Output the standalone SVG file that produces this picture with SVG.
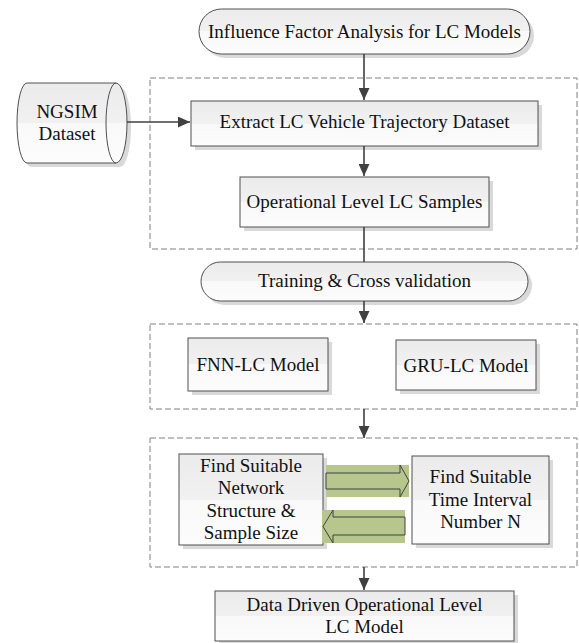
<svg xmlns="http://www.w3.org/2000/svg" width="579" height="643" viewBox="0 0 579 643">
  <defs>
    <linearGradient id="boxfill" x1="0" y1="0" x2="0" y2="1">
      <stop offset="0" stop-color="#ebebeb"/>
      <stop offset="0.5" stop-color="#f1f1f1"/>
      <stop offset="0.5" stop-color="#f9f9f9"/>
      <stop offset="1" stop-color="#fcfcfc"/>
    </linearGradient>
    <marker id="arrow" markerUnits="userSpaceOnUse" markerWidth="12" markerHeight="11" refX="12" refY="5.5" orient="auto">
      <path d="M0,0 L12,5.5 L0,11 z" fill="#404040"/>
    </marker>
    <style>
      .box { fill: url(#boxfill); stroke: #505050; stroke-width: 1; }
      .shadow { fill: #d9d9d9; }
      .dash { fill: none; stroke: #808080; stroke-width: 1; stroke-dasharray: 6 3; }
      .conn { fill: none; stroke: #404040; stroke-width: 1.6; }
      .txt { font-family: "Liberation Serif", "Times New Roman", serif; font-size: 19px; fill: #111; text-anchor: middle; }
      .garrow-bg { fill: #b6c68c; }
      .garrow { fill: #b6c68c; stroke: #404040; stroke-width: 1; }
    </style>
  </defs>
  <rect width="579" height="643" fill="#ffffff"/>

  <!-- dashed group boxes -->
  <g id="groups">
    <rect class="dash" x="150" y="78" width="427" height="171"/>
    <rect class="dash" x="150" y="324" width="427" height="85"/>
    <rect class="dash" x="150" y="438" width="427" height="129"/>
  </g>

  <g id="influence">
    <rect class="shadow" x="203" y="13" width="331" height="45" rx="22.5"/>
    <rect class="box" x="199" y="9" width="331" height="45" rx="22.5"/>
    <text class="txt" x="364.5" y="37.5">Influence Factor Analysis for LC Models</text>
  </g>

  <g id="ngsim">
    <path class="shadow" d="M31,87 L120,87 A11,40 0 0 1 120,167 L31,167 A10,40 0 0 1 31,87 Z"/>
    <path class="box" d="M27,83 L116,83 A11,40 0 0 1 116,163 L27,163 A10,40 0 0 1 27,83 Z"/>
    <path d="M116,83 A10,40 0 0 0 116,163" fill="none" stroke="#505050" stroke-width="1"/>
    <text class="txt" x="67" y="118">NGSIM</text>
    <text class="txt" x="67" y="140">Dataset</text>
  </g>

  <g id="extract">
    <rect class="shadow" x="195" y="105" width="347" height="45"/>
    <rect class="box" x="191" y="101" width="347" height="45"/>
    <text class="txt" x="364.5" y="128">Extract LC Vehicle Trajectory Dataset</text>
  </g>

  <g id="operational">
    <rect class="shadow" x="244" y="181" width="249" height="50"/>
    <rect class="box" x="240" y="177" width="249" height="50"/>
    <text class="txt" x="364.5" y="208">Operational Level LC Samples</text>
  </g>

  <g id="training">
    <rect class="shadow" x="205" y="266" width="327" height="39" rx="19.5"/>
    <rect class="box" x="201" y="262" width="327" height="39" rx="19.5"/>
    <text class="txt" x="364.5" y="287">Training &amp; Cross validation</text>
  </g>

  <g id="fnn">
    <rect class="shadow" x="192" y="342" width="140" height="53"/>
    <rect class="box" x="188" y="338" width="140" height="53"/>
    <text class="txt" x="258" y="371">FNN-LC Model</text>
  </g>

  <g id="gru">
    <rect class="shadow" x="400" y="344" width="140" height="50"/>
    <rect class="box" x="396" y="340" width="140" height="50"/>
    <text class="txt" x="466" y="371.5">GRU-LC Model</text>
  </g>

  <g id="network">
    <rect class="shadow" x="183" y="458" width="144" height="91"/>
    <rect class="box" x="179" y="454" width="144" height="91"/>
    <text class="txt" x="251" y="471.5">Find Suitable</text>
    <text class="txt" x="251" y="494">Network</text>
    <text class="txt" x="251" y="516.5">Structure &amp;</text>
    <text class="txt" x="251" y="539">Sample Size</text>
  </g>

  <g id="interval">
    <rect class="shadow" x="416" y="460" width="137" height="88"/>
    <rect class="box" x="412" y="456" width="137" height="88"/>
    <text class="txt" x="480.5" y="483">Find Suitable</text>
    <text class="txt" x="480.5" y="505.5">Time Interval</text>
    <text class="txt" x="480.5" y="528">Number N</text>
  </g>

  <g id="datadriven">
    <rect class="shadow" x="219" y="595" width="299" height="48"/>
    <rect class="box" x="215" y="591" width="299" height="50"/>
    <text class="txt" x="364.5" y="611">Data Driven Operational Level</text>
    <text class="txt" x="364.5" y="633">LC Model</text>
  </g>

  <g id="connectors">
    <line class="conn" x1="364" y1="54" x2="364" y2="100" marker-end="url(#arrow)"/>
    <line class="conn" x1="127" y1="122" x2="190" y2="122" marker-end="url(#arrow)"/>
    <line class="conn" x1="364" y1="146" x2="364" y2="176" marker-end="url(#arrow)"/>
    <line class="conn" x1="364" y1="227" x2="364" y2="262"/>
    <line class="conn" x1="364" y1="301" x2="364" y2="323" marker-end="url(#arrow)"/>
    <line class="conn" x1="364" y1="409" x2="364" y2="438" marker-end="url(#arrow)"/>
    <line class="conn" x1="364" y1="567" x2="364" y2="590" marker-end="url(#arrow)"/>
    <!-- block arrows between the two boxes -->
    <rect class="garrow-bg" x="326" y="465" width="83" height="32"/>
    <path class="garrow" d="M326,473 L400,473 L400,465 L409,481 L400,497 L400,489 L326,489 Z"/>
    <rect class="garrow-bg" x="322" y="510" width="83" height="33"/>
    <path class="garrow" d="M405,517 L333,517 L333,510 L323,526.5 L333,543 L333,535 L405,535 Z"/>
  </g>
</svg>
